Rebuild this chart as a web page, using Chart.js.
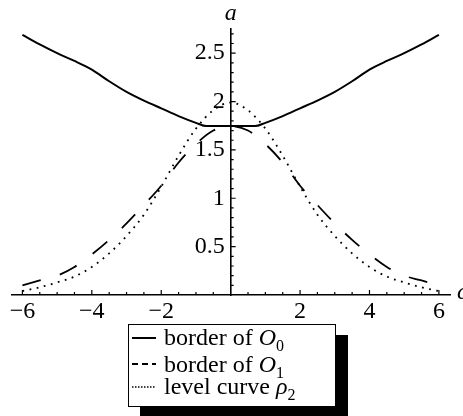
<!DOCTYPE html>
<html>
<head>
<meta charset="utf-8">
<script src="https://cdn.jsdelivr.net/npm/chart.js@4.4.1/dist/chart.umd.min.js"></script>
<style>
  html,body{margin:0;padding:0;background:#fff;overflow:hidden;}
  body{width:463px;height:416px;position:relative;font-family:'Liberation Serif','Times New Roman',serif;color:#000;}
  #c{position:absolute;left:0;top:0;}
  #lgbox{position:absolute;left:128px;top:324px;width:206px;height:81px;border:1.5px solid #000;background:#fff;box-shadow:12px 11px 0 #000;}
  .row{position:absolute;left:164px;font-size:24px;line-height:24px;white-space:nowrap;}
  .row sub{font-size:16px;vertical-align:-6px;line-height:0;}
  svg.smp{position:absolute;left:131px;width:26px;height:6px;overflow:visible;}
</style>
</head>
<body>
<canvas id="c" width="463" height="416"></canvas>
<div id="lgbox"></div>
<svg class="smp" style="top:335px"><line x1="1" y1="3" x2="25" y2="3" stroke="#000" stroke-width="2"/></svg>
<div class="row" style="top:325px">border of <i>O</i><sub>0</sub></div>
<svg class="smp" style="top:361px"><line x1="1" y1="3" x2="25" y2="3" stroke="#000" stroke-width="2" stroke-dasharray="6 4"/></svg>
<div class="row" style="top:352px">border of <i>O</i><sub>1</sub></div>
<svg class="smp" style="top:384px"><line x1="1" y1="3" x2="25" y2="3" stroke="#000" stroke-width="1.3" stroke-dasharray="1.5 1.5"/></svg>
<div class="row" style="top:374px">level curve <i>ρ</i><sub>2</sub></div>
<script>
// ---- data ----
const xSolid = [-6, -5.5, -5, -4.5, -4, -3.5, -3, -2.5, -2, -1.5, -1, -0.7, 0, 0.7, 1, 1.5, 2, 2.5, 3, 3.5, 4, 4.5, 5, 5.5, 6];
const ySolid = [2.69, 2.59, 2.50, 2.42, 2.33, 2.21, 2.10, 2.01, 1.93, 1.85, 1.78, 1.746, 1.746, 1.746, 1.78, 1.85, 1.93, 2.01, 2.10, 2.21, 2.33, 2.42, 2.50, 2.59, 2.69];

const xDashed = [-6, -5.5, -5, -4.5, -4, -3.5, -3, -2.5, -2, -1.5, -1, -0.5, 0, 0.5, 1, 1.5, 2, 2.5, 3, 3.5, 4, 4.5, 5, 5.5, 6];
const yDashed = [0.10, 0.15, 0.20, 0.29, 0.42, 0.57, 0.74, 0.93, 1.13, 1.37, 1.56, 1.70, 1.745, 1.70, 1.56, 1.37, 1.13, 0.93, 0.74, 0.57, 0.42, 0.29, 0.20, 0.15, 0.10];

const xDotted = [-6, -5.5, -5, -4.5, -4, -3.5, -3, -2.5, -2, -1.5, -1, -0.5, 0, 0.5, 1, 1.5, 2, 2.5, 3, 3.5, 4, 4.5, 5, 5.5, 6];
const yDotted = [0.04, 0.08, 0.13, 0.19, 0.29, 0.43, 0.61, 0.83, 1.12, 1.44, 1.72, 1.91, 1.99, 1.91, 1.72, 1.44, 1.12, 0.83, 0.61, 0.43, 0.29, 0.19, 0.13, 0.08, 0.04];

const xTickValues = [-6, -4, -2, 2, 4, 6];
const xTickLabels = ['\u22126', '\u22124', '\u22122', '2', '4', '6'];
const yTickValues = [0.5, 1, 1.5, 2, 2.5];
const yTickLabels = ['0.5', '1', '1.5', '2', '2.5'];
const xAxisTitle = 'c';
const yAxisTitle = 'a';

const FONT = "'Liberation Serif', 'Times New Roman', serif";

function pts(xs, ys){ return xs.map((x, i) => ({x: x, y: ys[i]})); }

const axisDecor = {
  id: 'axisDecor',
  afterDraw(chart){
    const {ctx, chartArea} = chart;
    const xs = chart.scales.x, ys = chart.scales.y;
    const x0 = xs.getPixelForValue(0), y0 = ys.getPixelForValue(0);
    ctx.save();
    ctx.strokeStyle = '#000';
    ctx.lineWidth = 1.2;
    ctx.beginPath();
    for (let k = -12; k <= 12; k++) {
      if (k === 0) continue;
      const px = xs.getPixelForValue(k * 0.5);
      const len = (k % 4 === 0) ? 5 : 3;
      ctx.moveTo(px, y0); ctx.lineTo(px, y0 - len);
    }
    for (let k = 1; k <= 27; k++) {
      const py = ys.getPixelForValue(k / 10);
      if (py < chartArea.top) continue;
      const len = (k % 5 === 0) ? 5 : 3;
      ctx.moveTo(x0, py); ctx.lineTo(x0 + len, py);
    }
    ctx.stroke();
    ctx.fillStyle = '#000';
    ctx.font = 'italic 24px ' + FONT;
    ctx.textAlign = 'center';
    ctx.textBaseline = 'alphabetic';
    ctx.fillText(yAxisTitle, x0, 20);
    ctx.textAlign = 'left';
    ctx.fillText(xAxisTitle, chartArea.right + 7, y0 + 4);
    ctx.restore();
  }
};

new Chart(document.getElementById('c'), {
  type: 'line',
  data: {
    datasets: [
      { label: 'border of O0', data: pts(xSolid, ySolid), borderColor: '#000', borderWidth: 2, pointRadius: 0, cubicInterpolationMode: 'monotone', fill: false },
      { label: 'border of O1', data: pts(xDashed, yDashed), borderColor: '#000', borderWidth: 1.8, borderDash: [19, 20], pointRadius: 0, cubicInterpolationMode: 'monotone', fill: false },
      { label: 'level curve rho2', data: pts(xDotted, yDotted), borderColor: '#000', borderWidth: 1.8, borderDash: [1.8, 5.5], pointRadius: 0, cubicInterpolationMode: 'monotone', fill: false }
    ]
  },
  options: {
    responsive: false,
    animation: false,
    events: [],
    layout: { padding: { left: 12, right: 13, top: 29, bottom: 91 } },
    plugins: { legend: { display: false }, tooltip: { enabled: false } },
    scales: {
      x: {
        type: 'linear', min: -6.3, max: 6.32, position: 'bottom',
        grid: { display: false, drawTicks: false },
        border: { display: true, color: '#000', width: 1.6 },
        afterBuildTicks: s => { s.ticks = xTickValues.map(v => ({ value: v })); },
        afterFit: s => { s.height = 30; },
        ticks: {
          color: '#000', padding: 2, maxRotation: 0, autoSkip: false,
          font: { family: FONT, size: 24 },
          callback: (v) => xTickLabels[xTickValues.indexOf(v)]
        }
      },
      y: {
        type: 'linear', min: 0, max: 2.75, position: { x: 0 },
        grid: { display: false, drawTicks: false },
        border: { display: true, color: '#000', width: 1.6 },
        afterBuildTicks: s => { s.ticks = yTickValues.map(v => ({ value: v })); },
        afterFit: s => { s.width = 0; },
        ticks: { display: false }
      },
      yLabels: {
        type: 'linear', min: 0, max: 2.75, position: { x: -0.17 },
        grid: { display: false, drawTicks: false },
        border: { display: false },
        afterBuildTicks: s => { s.ticks = yTickValues.map(v => ({ value: v })); },
        afterFit: s => { s.width = 0; },
        ticks: {
          color: '#000', autoSkip: false,
          font: { family: FONT, size: 24 },
          callback: (v) => yTickLabels[yTickValues.indexOf(v)]
        }
      }
    }
  },
  plugins: [axisDecor]
});
</script>
</body>
</html>
